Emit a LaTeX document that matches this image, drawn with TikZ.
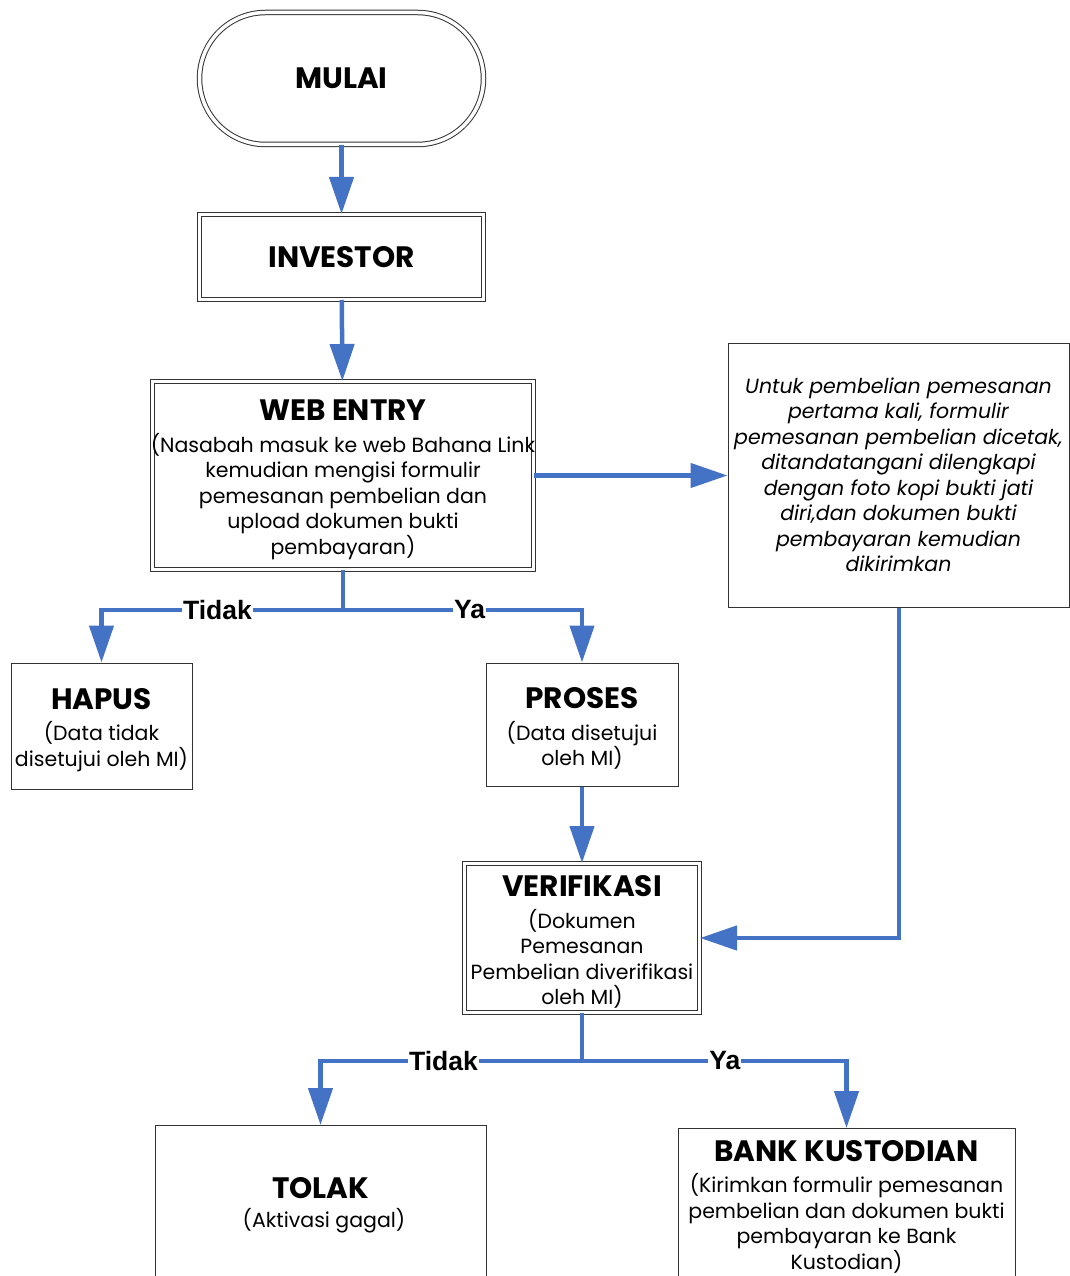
\documentclass[tikz,border=0pt]{standalone}
\usepackage{fontspec}
\setmainfont{Poppins}
\newfontfamily\lblfont{Liberation Sans}
\usetikzlibrary{arrows.meta}
\definecolor{flowblue}{HTML}{4472C4}
\newcommand{\bodyfont}{\fontsize{20.5}{25.5}\selectfont}
\newcommand{\ttlfont}{\fontsize{29.5}{25.5}\selectfont\bfseries}
\newcommand{\ttl}[1]{{\ttlfont\rule{0pt}{29pt}#1}}
\tikzset{
  box/.style={draw=black!80, line width=1pt, inner sep=0pt, align=center, font=\bodyfont},
  dbox/.style={box, double, double distance=3.5pt},
  flow/.style={draw=flowblue, line width=4.5pt},
  arr/.style={flow, -{Triangle[length=37pt,width=24pt]}},
  lbl/.style={fill=white, inner sep=1pt, font=\lblfont\bfseries\fontsize{26.5}{28}\selectfont},
}
\begin{document}
\begin{tikzpicture}[x=1pt,y=-1pt]
\useasboundingbox (0,0) rectangle (1070,1276);
% nodes
\node[dbox, rounded corners=66pt, minimum width=284pt, minimum height=132pt] (mulai) at (341.5,78.5) {\ttlfont MULAI};
\node[dbox, minimum width=284pt, minimum height=85pt] (investor) at (341.5,257) {\ttlfont INVESTOR};
\node[dbox, minimum width=381pt, minimum height=188pt] (web) at (343,475.5)
  {\ttl{WEB ENTRY}\\[6pt]\makebox[360pt][c]{(Nasabah masuk ke web Bahana Link}\\kemudian mengisi formulir\\pemesanan pembelian dan\\upload dokumen bukti\\pembayaran)};
\node[box, minimum width=341pt, minimum height=264pt, font=\bodyfont\itshape] (untuk) at (898.5,475)
  {Untuk pembelian pemesanan\\pertama kali, formulir\\pemesanan pembelian dicetak,\\ditandatangani dilengkapi\\dengan foto kopi bukti jati\\diri,dan dokumen bukti\\pembayaran kemudian\\dikirimkan};
\node[box, minimum width=181pt, minimum height=126pt] (hapus) at (101.5,726)
  {\ttl{HAPUS}\\[6pt](Data tidak\\disetujui oleh MI)};
\node[box, minimum width=192pt, minimum height=123pt] (proses) at (582,724.5)
  {\ttl{PROSES}\\[6pt](Data disetujui\\oleh MI)};
\node[dbox, minimum width=235pt, minimum height=149pt] (verif) at (582,938)
  {\ttl{VERIFIKASI}\\[6pt](Dokumen\\Pemesanan\\Pembelian diverifikasi\\oleh MI)};
\node[box, minimum width=331pt, minimum height=200pt, anchor=north] (tolak) at (320.5,1125) {};
\node[font=\ttlfont] (tolakT) at (320.5,1188) {TOLAK};
\node[font=\bodyfont] (tolakB) at (324,1221) {(Aktivasi gagal)};
\node[box, minimum width=337pt, minimum height=200pt, anchor=north] (bank) at (846.5,1128) {};
\node[font=\ttlfont] (bankT) at (846.5,1151) {BANK KUSTODIAN};
\node[font=\bodyfont, align=center, anchor=north] (bankB) at (846.5,1170)
  {(Kirimkan formulir pemesanan\\pembelian dan dokumen bukti\\pembayaran ke Bank\\Kustodian)};
% connectors
\draw[arr] (mulai) -- (investor);
\draw[arr] (investor) -- (web);
\draw[arr] (web.east) -- (untuk.west |- web.east);
\draw[flow] (web.south) -- (web.south |- 0,610) coordinate (wj);
\draw[arr] (wj) -| node[lbl, pos=0.26] {Tidak} (hapus.north);
\draw[arr] (wj) -| node[lbl, pos=0.265] {Ya} (proses.north);
\draw[arr] (proses) -- (verif);
\draw[arr] (untuk.south -| 899,0) |- (verif.east);
\draw[flow] (verif.south) -- (verif.south |- 0,1061) coordinate (vj);
\draw[arr] (vj) -| node[lbl, pos=0.265] {Tidak} (tolak.north);
\draw[arr] (vj) -| node[lbl, pos=0.27] {Ya} (bank.north);
\end{tikzpicture}
\end{document}
